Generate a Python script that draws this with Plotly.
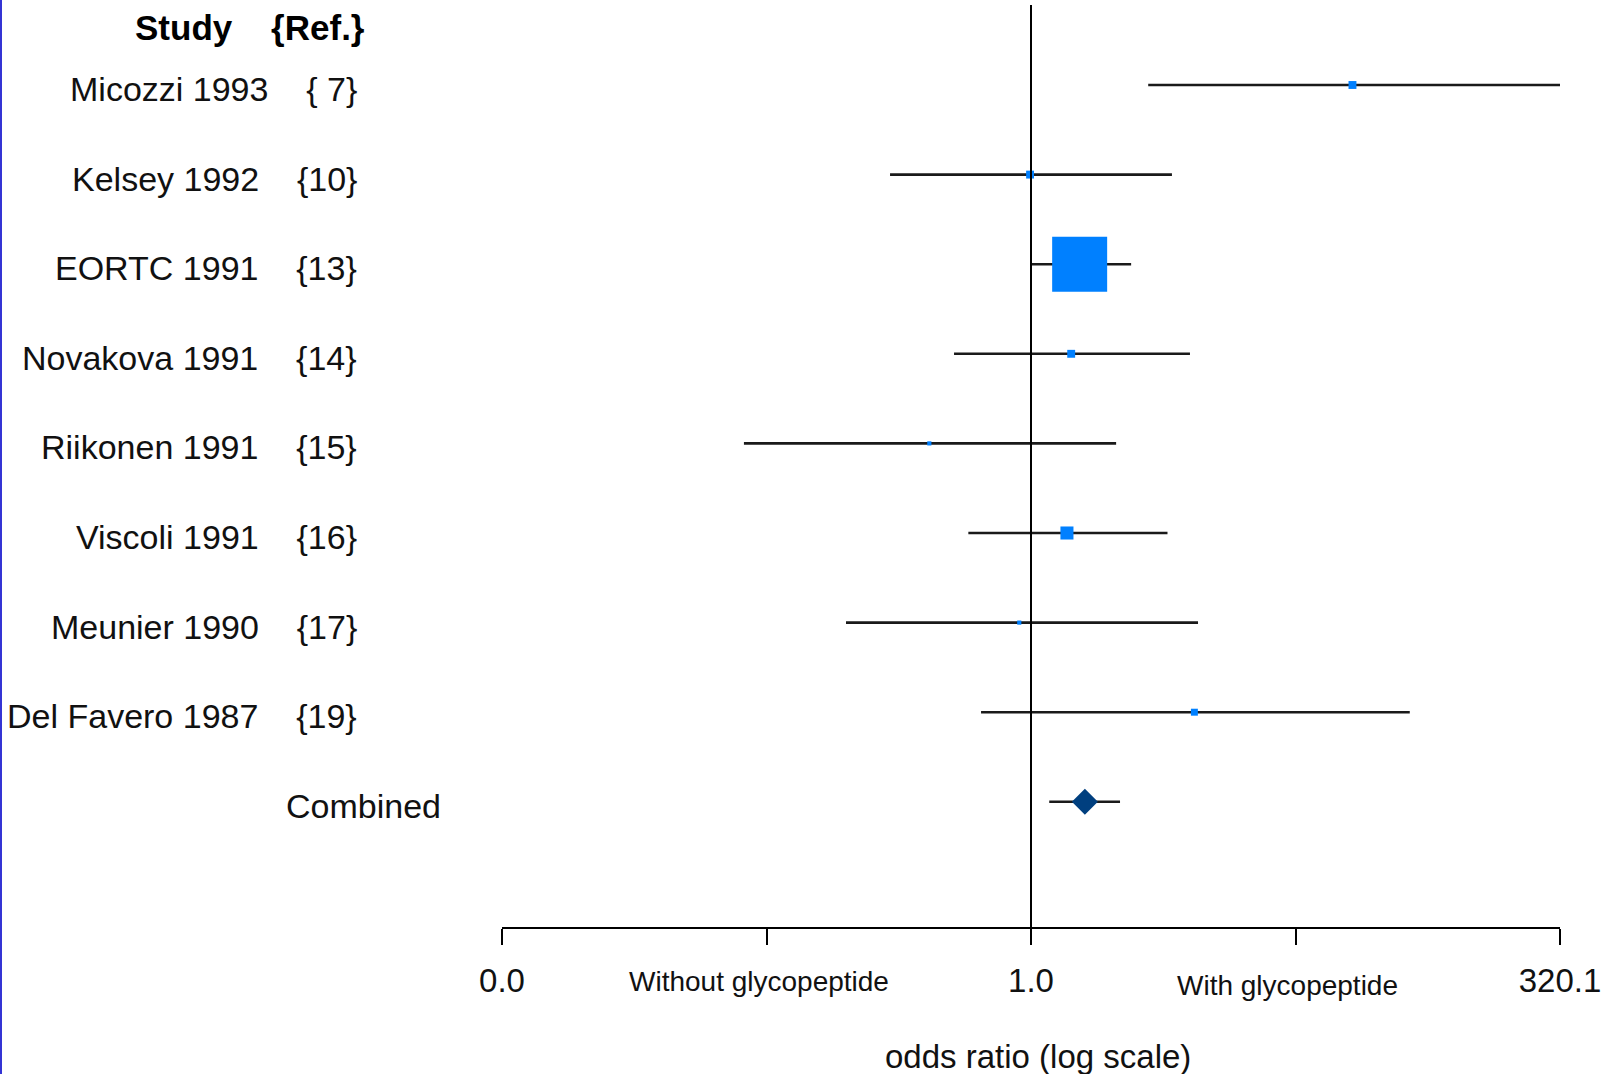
import math
import plotly.graph_objects as go

# Individual trials: odds ratios with 95% confidence limits
studies = ["Micozzi 1993", "Kelsey 1992", "EORTC 1991", "Novakova 1991",
           "Riikonen 1991", "Viscoli 1991", "Meunier 1990", "Del Favero 1987"]
refs = ["{ 7}", "{10}", "{13}", "{14}", "{15}", "{16}", "{17}", "{19}"]
odds_ratio = [33.3, 0.99, 1.70, 1.55, 0.33, 1.48, 0.88, 5.94]
ci_low = [3.59, 0.215, 1.00, 0.432, 0.0437, 0.505, 0.133, 0.58]
ci_high = [320.1, 4.65, 2.98, 5.66, 2.53, 4.43, 6.18, 62.2]
weights = [1.8, 1.8, 87.3, 1.8, 0.5, 4.9, 0.5, 1.4]  # % weight per study

# Pooled estimate
combined_label = "Combined"
combined_or = 1.80
combined_low = 1.22
combined_high = 2.64

# Axis
axis_limit = 320.1
tick_labels = ["0.0", "1.0", "320.1"]
side_labels = ["Without glycopeptide", "With glycopeptide"]
axis_title = "odds ratio (log scale)"

W, H = 1610, 1074
PLOT_L, PLOT_R, PLOT_B = 502, 1560, 927
FONT = "Liberation Sans, Arial, sans-serif"
BOX_BLUE = "#0080ff"
DIAMOND_BLUE = "#003f7f"

n = len(studies)
rows = list(range(1, n + 1))
combined_row = n + 1
row_gap = 89.6
first_row_px = 85

fig = go.Figure()

# Confidence-interval whiskers
cx, cy = [], []
for lo, hi, r in zip(ci_low + [combined_low], ci_high + [combined_high], rows + [combined_row]):
    cx += [lo, hi, None]
    cy += [r, r, None]
fig.add_trace(go.Scatter(x=cx, y=cy, mode="lines",
                         line=dict(color="#1a1a1a", width=2.6),
                         hoverinfo="skip", showlegend=False))

# Study boxes, area proportional to weight
wmax = max(weights)
box_sizes = [55 * math.sqrt(w / wmax) for w in weights]
fig.add_trace(go.Scatter(x=odds_ratio, y=rows, mode="markers",
                         marker=dict(symbol="square", size=box_sizes, opacity=1,
                                     color=BOX_BLUE, line=dict(width=0)),
                         showlegend=False))

# Pooled diamond
fig.add_trace(go.Scatter(x=[combined_or], y=[combined_row], mode="markers",
                         marker=dict(symbol="diamond", size=20, opacity=1,
                                     color=DIAMOND_BLUE, line=dict(width=0)),
                         showlegend=False))

# Line of no effect, from the top down to the axis
fig.add_shape(type="line", xref="x", yref="paper", x0=1, x1=1,
              y0=(H - PLOT_B) / H, y1=1 - 5 / H, line=dict(color="black", width=2))

# Left edge border
fig.add_shape(type="rect", xref="paper", yref="paper", x0=0, x1=2 / W,
              y0=0, y1=1, fillcolor="#3434d4", line=dict(width=0), layer="above")

# Column header
fig.add_annotation(xref="paper", yref="paper", x=367 / W, y=1 - 28 / H,
                   xanchor="right", yanchor="middle", showarrow=False,
                   text="<b>Study\u00a0\u00a0\u00a0\u00a0{Ref.}</b>",
                   font=dict(family=FONT, size=35, color="black"))

# Study labels
LABEL_SIZE = 34
for name, ref, r in zip(studies, refs, rows):
    fig.add_annotation(xref="paper", yref="y", x=359 / W, y=r,
                       xanchor="right", yanchor="middle", yshift=-4, showarrow=False,
                       text=name + "\u00a0\u00a0\u00a0\u00a0" + ref.replace(" ", "\u00a0"),
                       font=dict(family=FONT, size=LABEL_SIZE, color="#111"))
fig.add_annotation(xref="paper", yref="y", x=443 / W, y=combined_row,
                   xanchor="right", yanchor="middle", yshift=-4, showarrow=False,
                   text=combined_label, font=dict(family=FONT, size=LABEL_SIZE, color="#111"))

# Direction labels under the intermediate ticks
side_vals = [1 / math.sqrt(axis_limit), math.sqrt(axis_limit)]
for txt, xv, dy in zip(side_labels, side_vals, [981, 985]):
    fig.add_annotation(xref="x", yref="paper", x=math.log10(xv), y=(H - dy) / H,
                       xanchor="center", yanchor="middle", xshift=-8, showarrow=False,
                       text=txt, font=dict(family=FONT, size=28, color="#111"))

# Axis title
fig.add_annotation(xref="paper", yref="paper", x=1038 / W, y=(H - 1056) / H,
                   xanchor="center", yanchor="middle", showarrow=False,
                   text=axis_title, font=dict(family=FONT, size=33, color="#111"))

all_ticks = [1 / axis_limit, side_vals[0], 1, side_vals[1], axis_limit]
y_top = 1 - first_row_px / row_gap
y_bot = 1 + (PLOT_B - first_row_px) / row_gap

fig.update_layout(
    width=W, height=H,
    margin=dict(l=0, r=0, t=0, b=0),
    paper_bgcolor="white", plot_bgcolor="white",
    showlegend=False,
    xaxis=dict(type="log", domain=[PLOT_L / W, PLOT_R / W],
               range=[-math.log10(axis_limit), math.log10(axis_limit)],
               tickvals=all_ticks,
               ticktext=[tick_labels[0], "", tick_labels[1], "", tick_labels[2]],
               ticks="outside", ticklen=16, tickwidth=2, tickcolor="black",
               showline=True, linewidth=2, linecolor="black",
               showgrid=False, zeroline=False, automargin=False,
               ticklabelstandoff=7,
               tickfont=dict(family=FONT, size=33, color="#111")),
    yaxis=dict(domain=[(H - PLOT_B) / H, 1], range=[y_bot, y_top],
               visible=False, showgrid=False, zeroline=False),
)

fig.write_html("out.html")
